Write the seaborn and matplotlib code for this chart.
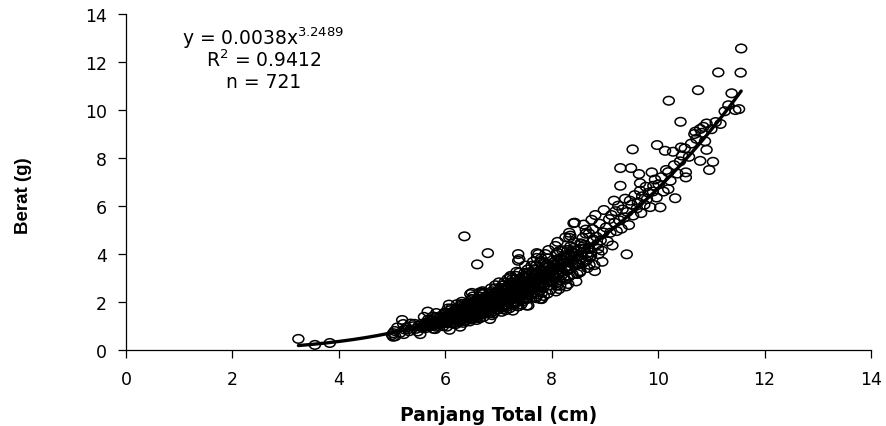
import numpy as np
import pandas as pd
import matplotlib
matplotlib.use("Agg")
import matplotlib.pyplot as plt
from matplotlib.path import Path
import seaborn as sns

# Panjang total (cm) dan berat (g), dikelompokkan menurut kelas panjang
panjang_a = [3.24, 3.55, 3.83, 5.02, 5.06, 5.19, 5.21, 5.67,
             5.00, 5.05, 5.02, 5.10, 5.15, 5.22, 5.24, 5.27, 5.30, 5.35, 5.32,
             5.40, 5.45, 5.42, 5.48, 5.50, 5.53, 5.55, 5.57, 5.59,
             5.60, 5.62, 5.64, 5.66, 5.68,
             5.70, 5.75, 5.72, 5.78, 5.74, 5.77, 5.71, 5.76,
             5.80, 5.85, 5.82, 5.88, 5.84, 5.87, 5.81, 5.86, 5.83,
             5.90, 5.95, 5.92, 5.98, 5.94, 5.97, 5.91, 5.96, 5.93, 5.99, 5.95]
berat_a = [0.45, 0.20, 0.28, 0.54, 0.56, 1.24, 1.07, 1.59,
           0.61, 0.78, 0.69, 0.93, 0.70, 0.65, 0.84, 0.93, 0.85, 1.09, 0.77,
           0.98, 0.87, 1.08, 0.76, 1.00, 0.65, 1.08, 0.91, 1.02,
           1.37, 0.89, 1.13, 1.00, 1.26,
           1.01, 1.13, 1.25, 0.87, 1.08, 1.39, 0.98, 1.16,
           1.10, 1.36, 0.96, 1.18, 1.07, 1.29, 0.86, 1.22, 1.53,
           1.05, 1.34, 1.19, 1.49, 1.13, 1.26, 1.40, 0.98, 1.21, 1.55, 1.10]

panjang_b = [6.00, 6.05, 6.02, 6.08, 6.04, 6.07, 6.01, 6.06, 6.03, 6.09, 6.05, 6.02, 6.08, 6.00,
             6.10, 6.15, 6.12, 6.18, 6.14, 6.17, 6.11, 6.16, 6.13, 6.19, 6.15, 6.12, 6.18, 6.10, 6.16,
             6.20, 6.25, 6.22, 6.28, 6.24, 6.27, 6.21, 6.26, 6.23, 6.29, 6.25, 6.22, 6.28, 6.20, 6.26, 6.24, 6.21, 6.28,
             6.30, 6.35, 6.32, 6.38, 6.34, 6.37, 6.31, 6.36, 6.33, 6.39, 6.35, 6.32, 6.38, 6.30, 6.36, 6.34, 6.31, 6.37, 6.36,
             6.40, 6.45, 6.42, 6.48, 6.44, 6.47, 6.41, 6.46, 6.43, 6.49, 6.45, 6.42, 6.48, 6.40, 6.46, 6.44, 6.41, 6.47, 6.43, 6.47,
             6.50, 6.55, 6.52, 6.58, 6.54, 6.57, 6.51, 6.56, 6.53, 6.59, 6.55, 6.52, 6.58, 6.50, 6.56, 6.54, 6.51, 6.57, 6.53, 6.59, 6.50, 6.60,
             6.60, 6.65, 6.62, 6.68, 6.64, 6.67, 6.61, 6.66, 6.63, 6.69, 6.65, 6.62, 6.68, 6.60, 6.66, 6.64, 6.61, 6.67, 6.63, 6.69, 6.65, 6.69,
             6.70, 6.75, 6.72, 6.78, 6.74, 6.77, 6.71, 6.76, 6.73, 6.79, 6.75, 6.72, 6.78, 6.70, 6.76, 6.74, 6.71, 6.77, 6.73, 6.79, 6.75,
             6.80, 6.85, 6.82, 6.88, 6.84, 6.87, 6.81, 6.86, 6.83, 6.89, 6.85, 6.82, 6.88, 6.80, 6.86, 6.84, 6.81, 6.87, 6.83, 6.89, 6.85, 6.84, 6.80,
             6.90, 6.95, 6.92, 6.98, 6.94, 6.97, 6.91, 6.96, 6.93, 6.99, 6.95, 6.92, 6.98, 6.90, 6.96, 6.94, 6.91, 6.97, 6.93, 6.99, 6.95]
berat_b = [1.37, 1.23, 1.52, 0.83, 1.32, 1.88, 1.20, 1.44, 0.96, 1.36, 1.72, 1.11, 1.41, 1.25,
           1.65, 1.25, 1.40, 1.56, 1.08, 1.35, 1.72, 1.22, 1.45, 1.29, 1.60, 1.13, 1.39, 1.26, 1.52,
           1.07, 1.51, 1.90, 1.23, 1.57, 1.39, 1.74, 1.32, 1.48, 1.64, 1.14, 1.42, 1.82, 1.29, 1.52, 1.36, 1.68, 0.96,
           1.25, 1.54, 1.40, 1.68, 1.12, 1.59, 2.00, 1.29, 1.65, 1.46, 1.83, 1.39, 1.56, 1.72, 1.20, 1.49, 1.91, 1.36, 4.73,
           1.68, 1.51, 1.86, 1.31, 1.62, 1.47, 1.77, 1.18, 1.67, 2.11, 1.36, 1.73, 1.54, 1.93, 1.46, 1.64, 1.81, 1.26, 1.57, 2.32,
           2.11, 1.50, 1.77, 1.59, 1.96, 1.38, 1.71, 1.55, 1.86, 1.24, 1.76, 2.22, 1.43, 1.82, 1.62, 2.03, 1.53, 1.72, 1.91, 1.33, 2.37, 3.56,
           1.74, 2.22, 1.58, 1.86, 1.66, 2.06, 1.45, 1.79, 1.63, 1.95, 1.31, 1.84, 2.33, 1.50, 1.92, 1.70, 2.13, 1.61, 1.81, 2.00, 2.39, 2.39,
           1.47, 1.82, 2.33, 1.65, 1.96, 1.75, 2.16, 1.52, 1.88, 1.71, 2.05, 1.37, 1.94, 2.44, 1.58, 2.01, 1.79, 2.24, 1.69, 1.90, 2.11,
           2.21, 1.54, 1.91, 2.44, 1.73, 2.05, 1.83, 2.27, 1.60, 1.97, 1.79, 2.15, 1.44, 2.03, 2.56, 1.65, 2.11, 1.87, 2.34, 1.77, 1.99, 1.28, 4.03,
           2.09, 2.31, 1.61, 2.00, 2.56, 1.82, 2.15, 1.92, 2.38, 1.67, 2.07, 1.88, 2.25, 1.51, 2.13, 2.69, 1.74, 2.21, 1.96, 2.46, 1.86]

panjang_c = [7.00, 7.05, 7.02, 7.08, 7.04, 7.07, 7.01, 7.06, 7.03, 7.09, 7.05, 7.02, 7.08, 7.00, 7.06, 7.04, 7.01, 7.07, 7.03, 7.09, 7.05,
             7.10, 7.15, 7.12, 7.18, 7.14, 7.17, 7.11, 7.16, 7.13, 7.19, 7.15, 7.12, 7.18, 7.10, 7.16, 7.14, 7.11, 7.17, 7.13, 7.19, 7.15,
             7.20, 7.25, 7.22, 7.28, 7.24, 7.27, 7.21, 7.26, 7.23, 7.29, 7.25, 7.22, 7.28, 7.20, 7.26, 7.24, 7.21, 7.27, 7.23, 7.29, 7.22, 7.27,
             7.30, 7.35, 7.32, 7.38, 7.34, 7.37, 7.31, 7.36, 7.33, 7.39, 7.35, 7.32, 7.38, 7.30, 7.36, 7.34, 7.31, 7.37, 7.33, 7.39, 7.37, 7.37, 7.34, 7.37,
             7.40, 7.45, 7.42, 7.48, 7.44, 7.47, 7.41, 7.46, 7.43, 7.49, 7.45, 7.42, 7.48, 7.40, 7.46, 7.44, 7.41, 7.47, 7.43, 7.39,
             7.50, 7.55, 7.52, 7.58, 7.54, 7.57, 7.51, 7.56, 7.53, 7.59, 7.55, 7.52, 7.58, 7.50, 7.56, 7.54, 7.51, 7.57, 7.53, 7.56,
             7.60, 7.65, 7.62, 7.68, 7.64, 7.67, 7.61, 7.66, 7.63, 7.69, 7.65, 7.62, 7.68, 7.60, 7.66, 7.64, 7.61,
             7.70, 7.75, 7.72, 7.78, 7.74, 7.77, 7.71, 7.76, 7.73, 7.79, 7.75, 7.72, 7.78, 7.70, 7.76, 7.74, 7.75, 7.72, 7.78,
             7.80, 7.85, 7.82, 7.88, 7.84, 7.87, 7.81, 7.86, 7.83, 7.89, 7.85, 7.82, 7.88, 7.80, 7.86, 7.81,
             7.90, 7.95, 7.92, 7.98, 7.94, 7.97, 7.91, 7.96, 7.93, 7.99, 7.95, 7.92, 7.98, 7.90]
berat_c = [1.95, 2.19, 2.42, 1.69, 2.10, 2.68, 1.91, 2.25, 2.01, 2.49, 1.75, 2.17, 1.97, 2.36, 1.58, 2.23, 2.81, 1.82, 2.32, 2.06, 2.58,
           2.70, 2.04, 2.29, 2.54, 1.77, 2.20, 2.81, 1.99, 2.36, 2.11, 2.61, 1.84, 2.27, 2.06, 2.47, 1.65, 2.34, 2.95, 1.90, 2.43, 2.15,
           2.25, 2.82, 2.13, 2.39, 2.65, 1.85, 2.30, 2.94, 2.09, 2.46, 2.20, 2.73, 1.92, 2.37, 2.16, 2.58, 1.73, 2.44, 3.08, 1.99, 3.02, 1.63,
           2.65, 2.36, 2.95, 2.23, 2.50, 2.78, 1.93, 2.41, 3.08, 2.18, 2.58, 2.31, 2.85, 2.01, 2.48, 2.26, 2.70, 1.81, 2.55, 3.22, 3.99, 3.71, 3.25, 1.81,
           2.18, 2.77, 2.46, 3.08, 2.33, 2.62, 2.90, 2.02, 2.51, 3.21, 2.28, 2.69, 2.41, 2.98, 2.10, 2.59, 2.36, 2.82, 1.89, 3.78,
           3.51, 2.27, 2.89, 2.57, 3.21, 2.43, 2.73, 3.02, 2.11, 2.62, 3.35, 2.38, 2.81, 2.51, 3.11, 2.19, 2.70, 2.46, 1.84, 1.84,
           2.90, 3.67, 2.37, 3.02, 2.68, 3.36, 2.54, 2.85, 3.16, 2.20, 2.74, 3.50, 2.48, 2.93, 2.62, 3.24, 2.28,
           2.15, 3.04, 3.83, 2.48, 3.15, 2.80, 3.51, 2.65, 2.98, 3.30, 2.30, 2.86, 3.65, 2.59, 3.06, 2.74, 3.99, 4.03, 2.12,
           3.35, 2.24, 3.16, 3.99, 2.58, 3.28, 2.92, 3.65, 2.76, 3.10, 3.44, 2.39, 2.98, 3.81, 2.70, 2.11,
           2.91, 3.49, 2.34, 3.30, 4.16, 2.69, 3.42, 3.04, 3.81, 2.88, 3.23, 3.58, 2.50, 3.10]

panjang_d = [8.00, 8.05, 8.02, 8.08, 8.04, 8.07, 8.01, 8.06, 8.03, 8.09, 8.05, 8.02, 8.08,
             8.10, 8.15, 8.12, 8.18, 8.14, 8.17, 8.11, 8.16, 8.13, 8.19, 8.15, 8.12, 8.10, 8.10,
             8.20, 8.25, 8.22, 8.28, 8.24, 8.27, 8.21, 8.26, 8.23, 8.29, 8.25, 8.16,
             8.30, 8.35, 8.32, 8.38, 8.34, 8.37, 8.31, 8.36, 8.33, 8.39, 8.33, 8.35,
             8.40, 8.45, 8.42, 8.48, 8.44, 8.47, 8.41, 8.46, 8.43, 8.41, 8.43,
             8.50, 8.55, 8.52, 8.58, 8.54, 8.57, 8.51, 8.56, 8.53,
             8.60, 8.65, 8.62, 8.68, 8.64, 8.67, 8.61, 8.64,
             8.70, 8.75, 8.72, 8.78, 8.74, 8.77, 8.71,
             8.80, 8.85, 8.82, 8.88, 8.84, 8.87, 8.81,
             8.90, 8.95, 8.92, 8.98, 8.94, 8.97]
berat_d = [3.33, 3.03, 3.63, 2.43, 3.43, 4.33, 2.80, 3.56, 3.16, 3.96, 3.00, 3.36, 3.73,
           2.80, 3.46, 3.15, 3.77, 2.53, 3.56, 4.50, 2.91, 3.70, 3.29, 4.12, 3.11, 2.67, 4.06,
           4.15, 2.92, 3.61, 3.29, 3.94, 2.64, 3.72, 4.69, 3.03, 3.86, 3.43, 2.67,
           3.49, 4.31, 3.04, 3.75, 3.41, 4.09, 2.74, 3.86, 4.88, 3.15, 4.67, 4.76,
           4.06, 3.63, 4.49, 3.16, 3.90, 3.55, 4.25, 2.85, 4.02, 5.28, 5.30,
           3.56, 4.21, 3.77, 4.66, 3.28, 4.05, 3.69, 4.41, 3.23,
           5.22, 3.70, 4.38, 3.92, 4.84, 3.41, 4.21, 5.01,
           4.24, 5.42, 3.85, 4.54, 4.06, 5.03, 3.54,
           3.53, 4.39, 5.62, 3.99, 4.71, 4.21, 3.28,
           5.26, 3.67, 4.56, 5.83, 4.14, 4.89]

panjang_e = [9.02, 9.05, 9.08, 9.10, 9.12, 9.14, 9.17, 9.18, 9.20, 9.22, 9.25, 9.27,
             9.29, 9.29, 9.31, 9.33, 9.36, 9.38, 9.41, 9.42, 9.45, 9.47, 9.49, 9.50,
             9.52, 9.53, 9.56, 9.60, 9.62, 9.64, 9.66, 9.66, 9.68, 9.70, 9.74, 9.77,
             9.79, 9.82, 9.85, 9.88, 9.90, 9.91, 9.94, 9.97, 9.98, 10.01, 10.04, 10.06,
             10.10, 10.13, 10.15, 10.19, 10.19, 10.20, 10.23, 10.28, 10.30, 10.32, 10.36, 10.41,
             10.42, 10.43, 10.45, 10.50, 10.52, 10.52, 10.58, 10.62, 10.68, 10.70, 10.72, 10.75,
             10.79, 10.79, 10.82, 10.85, 10.88, 10.91, 10.91, 10.96, 11.00, 11.03, 11.08, 11.13,
             11.17, 11.25, 11.32, 11.38, 11.45, 11.52, 11.55, 11.56]
berat_e = [5.10, 4.52, 5.45, 4.88, 5.62, 4.35, 6.22, 5.30, 5.78, 4.95, 6.01, 5.40,
           7.58, 6.84, 5.05, 5.85, 5.52, 6.30, 3.98, 5.75, 5.20, 6.22, 7.58, 6.05,
           8.36, 5.60, 6.45, 5.90, 6.15, 7.33, 6.95, 6.63, 5.70, 6.40, 6.05, 6.80,
           6.29, 6.55, 5.95, 7.40, 6.60, 6.84, 7.10, 6.35, 8.54, 6.90, 5.94, 7.20,
           6.60, 8.30, 7.50, 7.41, 6.70, 10.39, 7.05, 8.26, 7.70, 6.32, 7.35, 7.86,
           9.51, 8.44, 8.10, 8.40, 7.40, 7.19, 8.05, 8.60, 9.00, 9.10, 8.80, 10.83,
           9.21, 7.88, 9.05, 9.30, 8.70, 9.44, 8.34, 7.50, 9.20, 7.84, 9.50, 11.57,
           9.42, 9.95, 10.20, 10.70, 10.00, 10.04, 11.56, 12.57]

# ikan di inti sebaran (5.6 - 8.8 cm)
panjang_f = [5.62, 5.66, 5.70, 5.74, 5.78, 5.82, 5.86, 5.90, 5.94, 5.98,
             6.02, 6.06, 6.10, 6.14, 6.18, 6.22, 6.26, 6.30, 6.34, 6.38,
             6.42, 6.46, 6.50, 6.54, 6.58, 6.62, 6.66, 6.70, 6.74, 6.78,
             6.82, 6.86, 6.90, 6.94, 6.98, 7.02, 7.06, 7.10, 7.14, 7.18,
             7.22, 7.26, 7.30, 7.34, 7.38, 7.42, 7.46, 7.50, 7.54, 7.58,
             7.62, 7.66, 7.70, 7.74, 7.78, 7.82, 7.86, 7.90, 7.94, 7.98,
             8.02, 8.06, 8.10, 8.14, 8.18, 8.22, 8.26, 8.30, 8.34, 8.38,
             8.42, 8.46, 8.50, 8.54, 8.58, 8.62, 8.66, 8.70, 8.74, 8.78]
berat_f = [0.96, 1.12, 1.06, 1.22, 1.00, 1.19, 1.13, 1.37, 1.12, 1.32,
           1.19, 1.40, 1.33, 1.52, 1.24, 1.47, 1.40, 1.70, 1.38, 1.63,
           1.47, 1.73, 1.63, 1.87, 1.52, 1.80, 1.71, 2.07, 1.68, 1.98,
           1.79, 2.10, 1.98, 2.26, 1.84, 2.18, 2.07, 2.50, 2.03, 2.39,
           2.15, 2.52, 2.38, 2.72, 2.21, 2.61, 2.47, 2.99, 2.42, 2.85,
           2.56, 3.00, 2.82, 3.22, 2.62, 3.09, 2.93, 3.54, 2.87, 3.37,
           3.03, 3.55, 3.33, 3.80, 3.09, 3.64, 3.44, 4.16, 3.36, 3.95,
           3.55, 4.15, 3.90, 4.44, 3.61, 4.24, 4.01, 4.85, 3.92, 4.60]

# Persamaan hubungan panjang-berat W = a L^b
koef_a = 0.0038
koef_b = 3.2489
r_kuadrat = 0.9412
jumlah_n = 721

sumbu_ticks = [0, 2, 4, 6, 8, 10, 12, 14]

sns.set_theme(style="ticks")
plt.rcParams["font.family"] = ["DejaVu Sans"]
plt.rcParams["mathtext.default"] = "regular"
plt.rcParams["text.color"] = "black"
plt.rcParams["axes.labelcolor"] = "black"

df = pd.DataFrame({
    "Panjang": np.concatenate([panjang_a, panjang_b, panjang_c, panjang_d, panjang_e, panjang_f]),
    "Berat": np.concatenate([berat_a, berat_b, berat_c, berat_d, berat_e, berat_f]),
})

fig = plt.figure(figsize=(8.87, 4.27), dpi=100, facecolor="white")
ax = fig.add_axes([0.142, 0.1787, 0.840, 0.7857])

# open, slightly flattened circle marker
lingkaran = Path.unit_circle()
elips = Path(lingkaran.vertices * np.array([1.0, 0.78]), lingkaran.codes)

sns.scatterplot(data=df, x="Panjang", y="Berat", marker=elips, s=62,
                facecolor="none", edgecolor="black", linewidth=1.1,
                legend=False, ax=ax, zorder=2)
for coll in ax.collections:
    coll.set_facecolor("none")
    coll.set_edgecolor("black")

# power curve from the fitted coefficients
x_kurva = np.linspace(df["Panjang"].min(), df["Panjang"].max(), 300)
y_kurva = koef_a * x_kurva ** koef_b
sns.lineplot(x=x_kurva, y=y_kurva, color="black", linewidth=2.4, ax=ax, zorder=3)

ax.set_xlim(0, 14)
ax.set_ylim(0, 14)
ax.set_xticks(sumbu_ticks)
ax.set_yticks(sumbu_ticks)
for sp in ["top", "right"]:
    ax.spines[sp].set_visible(False)
for sp in ["left", "bottom"]:
    ax.spines[sp].set_color("black")
    ax.spines[sp].set_linewidth(0.9)
ax.tick_params(axis="both", direction="out", length=5.5, width=0.9,
               color="black", labelsize=12.5, labelcolor="black")
ax.tick_params(axis="x", pad=9)
ax.tick_params(axis="y", pad=8)

ax.set_xlabel("Panjang Total (cm)", fontsize=13.5, fontweight="bold", va="center", color="black")
ax.xaxis.set_label_coords(0.5, -0.192)
ax.set_ylabel("Berat (g)", fontsize=13.5, fontweight="bold", va="center", color="black",
              family=["Liberation Sans", "DejaVu Sans"])
ax.yaxis.set_label_coords(-0.138, 0.462)

ax.text(2.58, 12.75, f"y = {koef_a}x$^{{{koef_b}}}$", ha="center", va="baseline",
        fontsize=13.5, color="black")
ax.text(2.58, 11.85, f"R$^{{2}}$ = {r_kuadrat}", ha="center", va="baseline",
        fontsize=13.5, color="black")
ax.text(2.58, 10.97, f"n = {jumlah_n}", ha="center", va="baseline",
        fontsize=13.5, color="black")

fig.savefig("out.png", dpi=100, facecolor="white")
